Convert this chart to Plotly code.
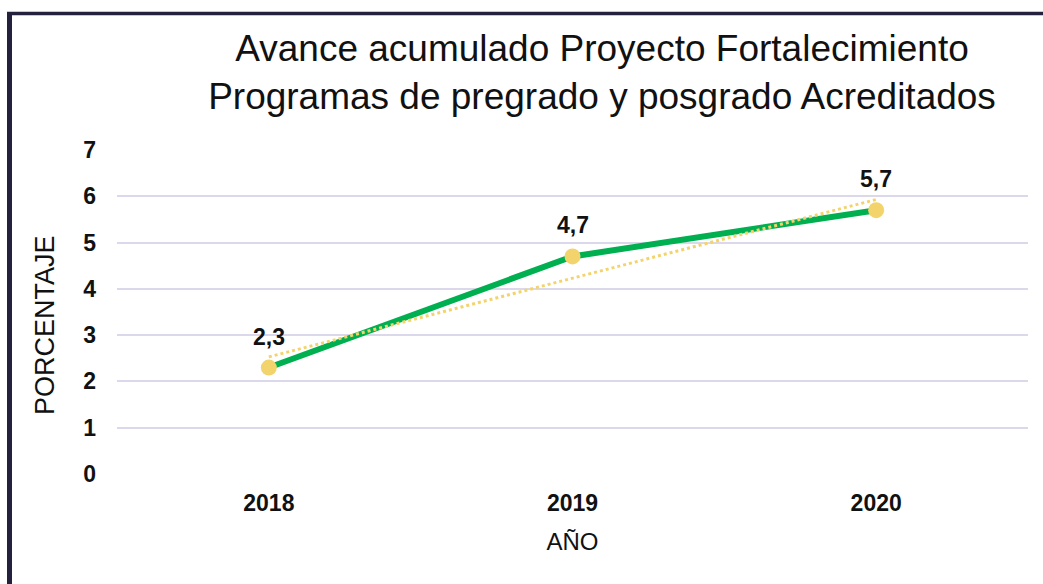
import plotly.graph_objects as go

years = ["2018", "2019", "2020"]
avance = [2.3, 4.7, 5.7]
labels = ["2,3", "4,7", "5,7"]
trend_x = ["2018", "2020"]
trend_y = [2.53, 5.93]  # linear trendline endpoints
y_ticks = [0, 1, 2, 3, 4, 5, 6, 7]

W, H = 1043, 584
L, R, T, B = 117, 15, 150, 110
pw, ph = W - L - R, H - T - B

def px_x(p):
    return (p - L) / pw

def px_y(p):
    return (H - B - p) / ph

FONT = "Liberation Sans, Arial, sans-serif"
GREEN = "#00B050"
YELLOW = "#F3D46C"
NAVY = "#24213F"
INK = "#111111"

fig = go.Figure()
fig.add_trace(go.Scatter(
    x=years, y=avance, mode="lines",
    line=dict(color=GREEN, width=6),
    showlegend=False,
))
fig.add_trace(go.Scatter(
    x=trend_x, y=trend_y, mode="lines",
    line=dict(color=YELLOW, width=3, dash="dot"),
    hoverinfo="skip", showlegend=False,
))
fig.add_trace(go.Scatter(
    x=years, y=avance, mode="markers",
    marker=dict(color=YELLOW, size=16),
    showlegend=False,
))
for i, (yv, t) in enumerate(zip(avance, labels)):
    fig.add_annotation(x=i, y=yv, text=t, showarrow=False,
                       yshift=31, font=dict(size=23, color=INK, family=FONT, weight="bold"))

# y-axis title placed as rotated annotation
fig.add_annotation(xref="paper", yref="paper", x=px_x(45), y=px_y(325),
                   text="PORCENTAJE", textangle=-90, showarrow=False,
                   xanchor="center", yanchor="middle",
                   font=dict(size=27, family=FONT, color=INK))

# frame lines (left and top)
fig.add_shape(type="line", xref="paper", yref="paper",
              x0=px_x(9.5), x1=px_x(9.5), y0=px_y(12), y1=px_y(600),
              line=dict(color=NAVY, width=5))
fig.add_shape(type="line", xref="paper", yref="paper",
              x0=px_x(7), x1=px_x(1060), y0=px_y(13.5), y1=px_y(13.5),
              line=dict(color=NAVY, width=3.5))

fig.update_layout(
    width=W, height=H,
    margin=dict(l=L, r=R, t=T, b=B),
    paper_bgcolor="white", plot_bgcolor="white",
    font=dict(family=FONT, color=INK),
    title=dict(text="Avance acumulado Proyecto Fortalecimiento<br>Programas de pregrado y posgrado Acreditados",
               x=602 / W, xanchor="center", y=1 - 61 / H, yanchor="middle",
               font=dict(size=37, family=FONT, color=INK)),
    xaxis=dict(type="category", categoryorder="array", categoryarray=years,
               range=[-0.5, 2.5], showgrid=False, zeroline=False,
               showline=False, ticks="", tickfont=dict(size=23, family=FONT, color=INK, weight="bold"),
               ticklabelstandoff=13,
               title=dict(text="AÑO", font=dict(size=24, family=FONT, color=INK), standoff=18)),
    yaxis=dict(range=[0, 7], tickvals=y_ticks, showgrid=True, gridcolor="#DAD8EA", gridwidth=2,
               zeroline=False, showline=False, ticks="",
               tickfont=dict(size=23, family=FONT, color=INK, weight="bold"),
               ticklabelstandoff=20),
)

fig.write_html("out.html", config={"displayModeBar": False},
               post_script="document.body.style.margin='0';")
